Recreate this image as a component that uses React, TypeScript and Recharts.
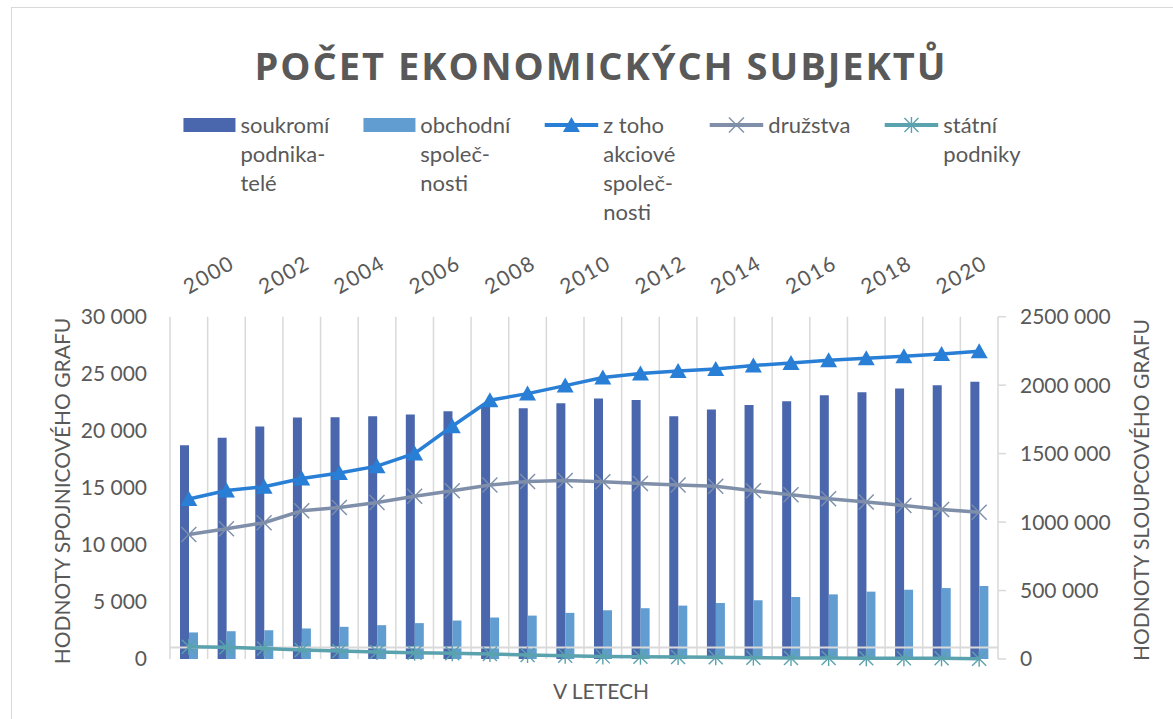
import React from "react";
import {
  ComposedChart,
  Bar,
  Line,
  XAxis,
  YAxis,
  CartesianGrid,
  ReferenceLine,
} from "recharts";

// Počet ekonomických subjektů 2000–2021
// sloupce = pravá osa, spojnice = levá osa

const roky = [
  "2000", "2001", "2002", "2003", "2004", "2005", "2006", "2007", "2008", "2009", "2010",
  "2011", "2012", "2013", "2014", "2015", "2016", "2017", "2018", "2019", "2020", "2021",
];

const soukromiPodnikatele = [
  1562000, 1616000, 1698000, 1764000, 1766000, 1773000, 1786000, 1810000, 1850000, 1831000, 1868000,
  1902000, 1892000, 1773000, 1822000, 1855000, 1882000, 1926000, 1948000, 1975000, 1999000, 2025000,
];

const obchodniSpolecnosti = [
  194000, 203000, 210000, 223000, 235000, 247000, 262000, 281000, 303000, 317000, 337000,
  356000, 371000, 390000, 409000, 429000, 453000, 472000, 492000, 506000, 518000, 533000,
];

const akcioveSpolecnosti = [
  14030, 14770, 15090, 15820, 16310, 16900, 18010, 20400, 22680, 23260, 23960,
  24670, 25020, 25250, 25420, 25720, 25950, 26180, 26360, 26530, 26730, 26970,
];

const druzstva = [
  10920, 11410, 11940, 12990, 13280, 13720, 14270, 14740, 15240, 15560, 15650,
  15530, 15380, 15240, 15150, 14740, 14390, 14040, 13750, 13460, 13110, 12870,
];

const statniPodniky = [
  1080, 1020, 930, 790, 700, 610, 550, 500, 440, 350, 290,
  230, 200, 180, 150, 120, 90, 90, 60, 60, 60, 30,
];

const leveTicky = [0, 5000, 10000, 15000, 20000, 25000, 30000];
const praveTicky = [0, 500000, 1000000, 1500000, 2000000, 2500000];

const TEXT = "#595959";
const GRID = "#d9d9d9";
const FONT = "Lato, 'Open Sans', sans-serif";

const data = roky.map((rok, i) => ({
  rok,
  soukromi: soukromiPodnikatele[i],
  obchodni: obchodniSpolecnosti[i],
  akciove: akcioveSpolecnosti[i],
  druzstva: druzstva[i],
  statni: statniPodniky[i],
}));

// "30 000", "2500 000" – tak jak to ukazuje Excel
function formatCislo(v: number): string {
  if (v === 0) return "0";
  return `${v / 1000} 000`;
}

// ---------------------------------------------------------------------------
// Značky
// ---------------------------------------------------------------------------

function Trojuhelnik({ cx, cy, color }: any) {
  if (cx == null || cy == null) return null;
  return (
    <polygon
      points={`${cx},${cy - 8} ${cx + 8.5},${cy + 7} ${cx - 8.5},${cy + 7}`}
      fill={color}
    />
  );
}

function Krizek({ cx, cy, color }: any) {
  if (cx == null || cy == null) return null;
  const r = 7.5;
  return (
    <g stroke={color} strokeWidth={1.4}>
      <line x1={cx - r} y1={cy - r} x2={cx + r} y2={cy + r} />
      <line x1={cx - r} y1={cy + r} x2={cx + r} y2={cy - r} />
    </g>
  );
}

function Hvezdicka({ cx, cy, color }: any) {
  if (cx == null || cy == null) return null;
  const r = 7;
  return (
    <g stroke={color} strokeWidth={1.4}>
      <line x1={cx - r} y1={cy - r} x2={cx + r} y2={cy + r} />
      <line x1={cx - r} y1={cy + r} x2={cx + r} y2={cy - r} />
      <line x1={cx} y1={cy - r - 1} x2={cx} y2={cy + r + 1} />
    </g>
  );
}

const serie = [
  { key: "soukromi", radky: ["soukromí", "podnika-", "telé"], color: "#4A66AC", typ: "bar", znacka: null },
  { key: "obchodni", radky: ["obchodní", "společ-", "nosti"], color: "#629DD1", typ: "bar", znacka: null },
  { key: "akciove", radky: ["z toho", "akciové", "společ-", "nosti"], color: "#297FD5", typ: "line", znacka: Trojuhelnik },
  { key: "druzstva", radky: ["družstva"], color: "#7F8FA9", typ: "line", znacka: Krizek },
  { key: "statni", radky: ["státní", "podniky"], color: "#5AA2AE", typ: "line", znacka: Hvezdicka },
];

// ---------------------------------------------------------------------------
// Popisky osy X nahoře (šikmo)
// ---------------------------------------------------------------------------

function RokTick({ x, y, payload }: any) {
  return (
    <text
      x={x}
      y={y}
      transform={`rotate(-30 ${x} ${y})`}
      textAnchor="start"
      fill={TEXT}
      fontSize={21}
      fontFamily={FONT}
      letterSpacing={1.5}
    >
      {payload.value}
    </text>
  );
}

// ---------------------------------------------------------------------------
// Legenda
// ---------------------------------------------------------------------------

function Legenda() {
  return (
    <div
      style={{
        position: "absolute",
        left: 602,
        top: 110,
        transform: "translateX(-50%)",
        display: "flex",
        gap: 34,
        fontFamily: FONT,
        fontSize: 22,
        lineHeight: "29px",
        color: TEXT,
        whiteSpace: "nowrap",
      }}
    >
      {serie.map((s) => {
        const Z = s.znacka as any;
        return (
          <div key={s.key} style={{ display: "flex", alignItems: "flex-start", gap: 5 }}>
            {s.typ === "bar" ? (
              <div style={{ width: 52, height: 14, marginTop: 8, background: s.color }} />
            ) : (
              <svg width={54} height={20} style={{ marginTop: 5 }}>
                <line x1={0} y1={10} x2={54} y2={10} stroke={s.color} strokeWidth={4} />
                <Z cx={27} cy={10} color={s.color} />
              </svg>
            )}
            <div>
              {s.radky.map((r) => (
                <div key={r}>{r}</div>
              ))}
            </div>
          </div>
        );
      })}
    </div>
  );
}

// ---------------------------------------------------------------------------
// App
// ---------------------------------------------------------------------------

export default function App() {
  const n = roky.length;
  return (
    <div
      style={{
        position: "absolute",
        left: 0,
        top: 0,
        width: 1173,
        height: 719,
        background: "#fff",
        overflow: "hidden",
        fontFamily: FONT,
      }}
    >
      {/* rámeček grafu */}
      <div
        style={{
          position: "absolute",
          left: 11,
          top: 7,
          width: 1180,
          height: 730,
          border: `1px solid ${GRID}`,
        }}
      />

      <div
        style={{
          position: "absolute",
          left: 601,
          top: 46,
          transform: "translateX(-50%)",
          fontFamily: "'Open Sans', sans-serif",
          fontWeight: 700,
          fontSize: 38,
          lineHeight: "38px",
          letterSpacing: 2,
          color: TEXT,
          whiteSpace: "nowrap",
        }}
      >
        POČET EKONOMICKÝCH SUBJEKTŮ
      </div>

      <Legenda />

      <ComposedChart
        width={1173}
        height={719}
        data={data}
        margin={{ top: 286.7, right: 75, bottom: 60, left: 70 }}
        barGap={0}
        style={{ position: "absolute", left: 0, top: 0 }}
      >
        <CartesianGrid
          horizontal={false}
          stroke={GRID}
          strokeWidth={1.5}
          verticalCoordinatesGenerator={({ offset }: any) =>
            Array.from({ length: n }, (_, i) => offset.left + (i * offset.width) / n)
          }
        />
        <XAxis
          dataKey="rok"
          orientation="top"
          height={30}
          interval={1}
          axisLine={false}
          tickLine={false}
          tickSize={6}
          tickMargin={16}
          tick={<RokTick />}
        />
        <YAxis
          yAxisId="left"
          orientation="left"
          width={100}
          domain={[0, 30000]}
          ticks={leveTicky}
          tickFormatter={formatCislo}
          axisLine={false}
          tickLine={false}
          tickSize={6}
          tickMargin={17}
          tick={{ fill: TEXT, fontSize: 21, fontFamily: FONT }}
        />
        <YAxis
          yAxisId="right"
          orientation="right"
          width={100}
          domain={[0, 2500000]}
          ticks={praveTicky}
          tickFormatter={formatCislo}
          axisLine={{ stroke: GRID, strokeWidth: 1.5 }}
          tickLine={{ stroke: GRID, strokeWidth: 1.5 }}
          tickSize={8}
          tickMargin={14}
          tick={{ fill: TEXT, fontSize: 21, fontFamily: FONT }}
        />
        <ReferenceLine yAxisId="left" y={1000} stroke={GRID} strokeWidth={2} />
        <Bar yAxisId="right" dataKey="soukromi" fill="#4A66AC" barSize={9} isAnimationActive={false} />
        <Bar yAxisId="right" dataKey="obchodni" fill="#629DD1" barSize={9} isAnimationActive={false} />
        {serie
          .filter((s) => s.typ === "line")
          .map((s) => {
            const Z = s.znacka as any;
            return (
              <Line
                key={s.key}
                yAxisId="left"
                type="linear"
                dataKey={s.key}
                stroke={s.color}
                strokeWidth={3.5}
                dot={(p: any) => <Z key={`${s.key}-${p.index}`} cx={p.cx} cy={p.cy} color={s.color} />}
                activeDot={false}
                isAnimationActive={false}
              />
            );
          })}
      </ComposedChart>

      <div
        style={{
          position: "absolute",
          left: 61,
          top: 491,
          transform: "translate(-50%, -50%) rotate(-90deg)",
          fontSize: 21,
          color: TEXT,
          whiteSpace: "nowrap",
        }}
      >
        HODNOTY SPOJNICOVÉHO GRAFU
      </div>
      <div
        style={{
          position: "absolute",
          left: 1140,
          top: 490,
          transform: "translate(-50%, -50%) rotate(-90deg)",
          fontSize: 21,
          color: TEXT,
          whiteSpace: "nowrap",
        }}
      >
        HODNOTY SLOUPCOVÉHO GRAFU
      </div>
      <div
        style={{
          position: "absolute",
          left: 601,
          top: 690,
          transform: "translate(-50%, -50%)",
          fontSize: 21,
          color: TEXT,
          whiteSpace: "nowrap",
        }}
      >
        V LETECH
      </div>
    </div>
  );
}
